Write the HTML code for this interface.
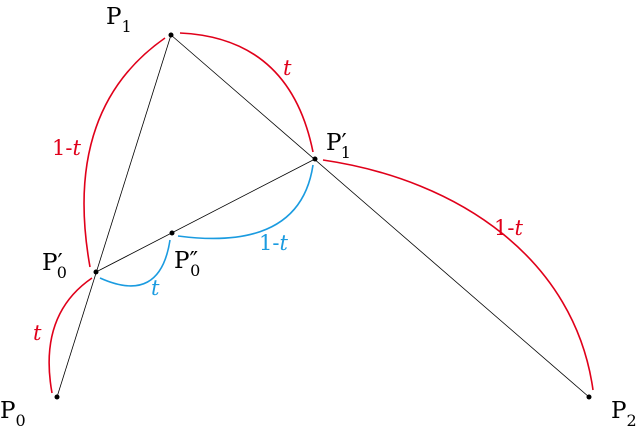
<!DOCTYPE html>
<html><head><style>
html,body{margin:0;padding:0;background:#fff;}
text{font-family:"DejaVu Serif","Liberation Serif",serif;}
</style></head><body>
<svg width="641" height="440" viewBox="0 0 641 440" xmlns="http://www.w3.org/2000/svg">
<g stroke="#000" stroke-width="0.8" fill="none">
<line x1="57" y1="397" x2="171" y2="35"/>
<line x1="171" y1="35" x2="589" y2="397"/>
<line x1="96" y1="272" x2="315" y2="159"/>
</g>
<g stroke="#e0001a" stroke-width="1.6" fill="none">
<path d="M180,33 Q290,38 313,152"/>
<path d="M165,38 Q62,110 90,267"/>
<path d="M92,278 Q38,315 52,393"/>
<path d="M323,160 C460,180 575,260 593,390"/>
</g>
<g stroke="#1a9be0" stroke-width="1.6" fill="none">
<path d="M100,278 Q160,305 170,240"/>
<path d="M178,236 Q300,252 313,165"/>
</g>
<g fill="#000">
<circle cx="57" cy="397" r="2.5"/><circle cx="171" cy="35" r="2.5"/>
<circle cx="589" cy="397" r="2.5"/><circle cx="96" cy="272" r="2.5"/>
<circle cx="315" cy="159" r="2.5"/><circle cx="172" cy="233" r="2.5"/>
</g>
<g font-size="23" fill="#000">
<text x="106" y="24">P<tspan font-size="16" dy="8">1</tspan></text>
<text x="0" y="418">P<tspan font-size="16" dy="8">0</tspan></text>
<text x="611" y="418">P<tspan font-size="16" dy="8">2</tspan></text>
<text x="42" y="270">P′<tspan font-size="16" dy="8" dx="-6">0</tspan></text>
<text x="326" y="150">P′<tspan font-size="16" dy="8" dx="-6">1</tspan></text>
<text x="174" y="268">P″<tspan font-size="16" dy="8" dx="-8">0</tspan></text>
</g>
<g font-size="21" fill="#e0001a">
<text x="283" y="75" font-style="italic">t</text>
<text x="52" y="155">1-<tspan font-style="italic">t</tspan></text>
<text x="33" y="340" font-style="italic">t</text>
<text x="494" y="235">1-<tspan font-style="italic">t</tspan></text>
</g>
<g font-size="21" fill="#1a9be0">
<text x="151" y="295" font-style="italic">t</text>
<text x="259" y="250">1-<tspan font-style="italic">t</tspan></text>
</g>
</svg>
</body></html>
